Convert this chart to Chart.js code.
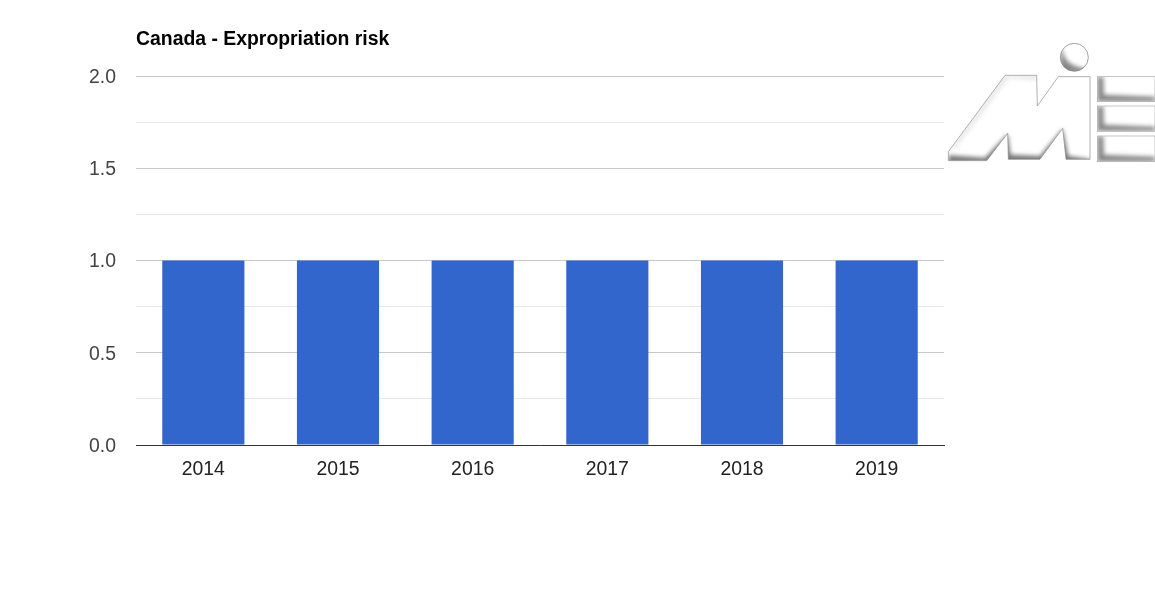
<!DOCTYPE html>
<html>
<head>
<meta charset="utf-8">
<title>Canada - Expropriation risk</title>
<script src="https://cdn.jsdelivr.net/npm/chart.js@4"></script>
<style>
    html, body { margin: 0; padding: 0; background: #fff; overflow: hidden; }
    #wrap { position: relative; width: 1155px; height: 600px; }
    #logo { position: absolute; left: 940px; top: 30px; }
</style>
</head>
<body>
<div id="wrap">
    <canvas id="riskChart" width="1155" height="600"></canvas>
    <!-- logo, coordinates are 3x so they line up with the zoomed crop -->
    <svg id="logo" width="215" height="140" viewBox="0 0 645 420">
        <defs>
            <filter id="soft" x="-20%" y="-20%" width="140%" height="140%"><feGaussianBlur stdDeviation="6"/></filter>
            <clipPath id="clipM"><path d="M25 365 L195 136 L290 136 L292 228 L355 140 L450 140 L450 388 L378 388 L368 295 L300 388 L205 388 L203 310 L140 392 L25 392 Z"/></clipPath>
            <clipPath id="clipC"><circle cx="403" cy="82" r="42"/></clipPath>
            <clipPath id="clipE1"><rect x="472" y="140" width="173" height="75"/></clipPath>
            <clipPath id="clipE2"><rect x="472" y="228" width="173" height="76"/></clipPath>
            <clipPath id="clipE3"><rect x="472" y="318" width="173" height="77"/></clipPath>
        </defs>
        <g clip-path="url(#clipM)">
            <rect width="645" height="420" fill="#fff"/>
            <path d="M25 400 L25 376 L135 383 L203 312 L212 374 L300 378 L368 296 L385 378 L450 388 L450 400 Z" fill="#777" filter="url(#soft)"/>
            <path d="M195 136 L290 136 L292 150 L205 144 L50 350 L25 365 Z" fill="#ccc" filter="url(#soft)" opacity="0.5"/>
        </g>
        <path d="M25 365 L195 136 L290 136 L292 228 L355 140 L450 140 L450 388 L378 388 L368 295 L300 388 L205 388 L203 310 L140 392 L25 392 Z" fill="none" stroke="#8a8a8a" stroke-width="2"/>
        <g clip-path="url(#clipC)">
            <circle cx="403" cy="82" r="42" fill="#fff"/>
            <path d="M361 60 L368 60 Q372 110 445 116 L445 130 L361 130 Z" fill="#888" filter="url(#soft)"/>
        </g>
        <circle cx="403" cy="82" r="42" fill="none" stroke="#777" stroke-width="2"/>
        <g clip-path="url(#clipE1)">
            <rect x="472" y="140" width="173" height="75" fill="#fff"/>
            <path d="M472 140 L490 140 L492 194 L645 200 L645 215 L472 215 Z" fill="#888" filter="url(#soft)"/>
        </g>
        <rect x="472" y="140" width="173" height="75" fill="none" stroke="#aaa" stroke-width="2"/>
        <g clip-path="url(#clipE2)">
            <rect x="472" y="228" width="173" height="76" fill="#fff"/>
            <path d="M472 228 L490 228 L492 284 L645 290 L645 304 L472 304 Z" fill="#888" filter="url(#soft)"/>
        </g>
        <rect x="472" y="228" width="173" height="76" fill="none" stroke="#aaa" stroke-width="2"/>
        <g clip-path="url(#clipE3)">
            <rect x="472" y="318" width="173" height="77" fill="#fff"/>
            <path d="M472 318 L490 318 L492 374 L645 380 L645 395 L472 395 Z" fill="#888" filter="url(#soft)"/>
        </g>
        <rect x="472" y="318" width="173" height="77" fill="none" stroke="#aaa" stroke-width="2"/>
    </svg>
</div>
<script>
var years = ['2014', '2015', '2016', '2017', '2018', '2019'];
var riskValues = [1, 1, 1, 1, 1, 1];
var chartTitle = 'Canada - Expropriation risk';
var yMin = 0;
var yMax = 2;
var yStep = 0.25;

Chart.defaults.font.family = '"Liberation Sans", Arial, sans-serif';
Chart.defaults.animation = false;

new Chart(document.getElementById('riskChart'), {
    type: 'bar',
    data: {
        labels: years,
        datasets: [{
            label: 'Expropriation risk',
            backgroundColor: '#3366cc',
            data: riskValues,
            barPercentage: 0.61,
            categoryPercentage: 1
        }]
    },
    options: {
        responsive: false,
        layout: { padding: { left: 0, right: 211, top: 0, bottom: 0 } },
        plugins: {
            legend: { display: false },
            tooltip: { enabled: false },
            title: {
                display: true,
                text: chartTitle,
                align: 'start',
                fullSize: false,
                color: '#000',
                font: { size: 19.4, weight: 'bold' },
                padding: { top: 28, bottom: 24.9 }
            }
        },
        scales: {
            x: {
                grid: { display: false, drawTicks: false },
                border: { color: '#333', width: 1 },
                ticks: { color: '#222', font: { size: 19.4 }, padding: 13, maxRotation: 0 },
                afterFit: function (scale) { scale.height = 155; }
            },
            y: {
                min: yMin,
                max: yMax,
                grid: {
                    drawTicks: false,
                    color: function (ctx) {
                        // every other line is the faint one without a label
                        return ctx.tick.value % 0.5 === 0 ? '#c8c8c8' : '#e8e8e8';
                    }
                },
                border: { display: false },
                ticks: {
                    stepSize: yStep,
                    color: '#444',
                    font: { size: 19.4 },
                    padding: 20,
                    labelOffset: 1.5,
                    autoSkip: false,
                    callback: function (value) {
                        return value % 0.5 === 0 ? value.toFixed(1) : '';
                    }
                },
                afterFit: function (scale) { scale.width = 136; }
            }
        }
    }
});
</script>
</body>
</html>
